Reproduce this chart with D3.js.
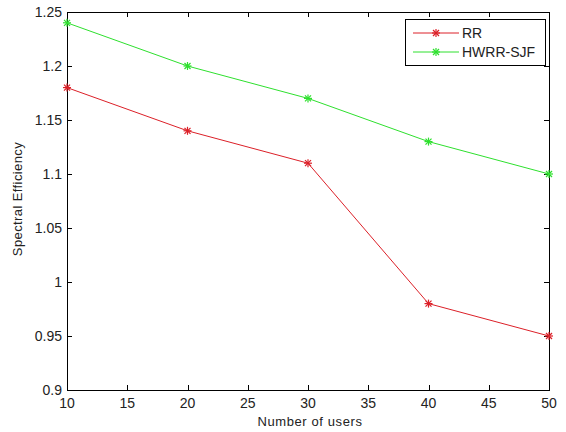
<!DOCTYPE html>
<html><head><meta charset="utf-8">
<script src="https://cdn.jsdelivr.net/npm/d3@7"></script>
<style>body{margin:0;background:#fff}svg{display:block}text{font-family:Arial,"Liberation Sans",sans-serif}</style>
</head><body>
<svg id="c" width="566" height="432"></svg>
<script>
const users = [10, 20, 30, 40, 50];
const rrValues = [1.18, 1.14, 1.11, 0.98, 0.95];
const hwrrValues = [1.24, 1.20, 1.17, 1.13, 1.10];
const xTicks = [10, 15, 20, 25, 30, 35, 40, 45, 50];
const yTicks = [0.9, 0.95, 1, 1.05, 1.1, 1.15, 1.2, 1.25];
const seriesNames = ["RR", "HWRR-SJF"];
const seriesColors = ["#dc2028", "#2ee02e"];

const svg = d3.select("#c");
const L = 67, R = 549, T = 12, B = 390;
const x = d3.scaleLinear().domain([10, 50]).range([L, R]);
const y = d3.scaleLinear().domain([0.9, 1.25]).range([B, T]);
const tl = 5;

const ax = svg.append("g").attr("stroke", "#000").attr("stroke-width", 1).attr("fill", "none");
ax.append("rect").attr("x", L + 0.5).attr("y", T + 0.5).attr("width", R - L).attr("height", B - T);
xTicks.forEach(t => {
  const px = Math.round(x(t)) + 0.5;
  ax.append("line").attr("x1", px).attr("x2", px).attr("y1", B).attr("y2", B - tl);
  ax.append("line").attr("x1", px).attr("x2", px).attr("y1", T).attr("y2", T + tl);
});
yTicks.forEach(t => {
  const py = Math.round(y(t)) + 0.5;
  ax.append("line").attr("x1", L).attr("x2", L + tl).attr("y1", py).attr("y2", py);
  ax.append("line").attr("x1", R).attr("x2", R - tl).attr("y1", py).attr("y2", py);
});
const fmt = d => String(+d.toFixed(2));
svg.append("g").selectAll("text").data(xTicks).join("text")
  .attr("x", d => x(d)).attr("y", B + 18).attr("text-anchor", "middle")
  .attr("font-size", 14).attr("fill", "#222").text(fmt);
svg.append("g").selectAll("text").data(yTicks).join("text")
  .attr("x", L - 5).attr("y", d => y(d) + 5).attr("text-anchor", "end")
  .attr("font-size", 14).attr("fill", "#222").text(fmt);

svg.append("text").attr("x", (L + R) / 2 + 2).attr("y", 426).attr("text-anchor", "middle")
  .attr("font-size", 13).attr("letter-spacing", 0.6).attr("fill", "#222").text("Number of users");
svg.append("text").attr("transform", `translate(22,${(T + B) / 2 - 2}) rotate(-90)`)
  .attr("text-anchor", "middle").attr("font-size", 13).attr("letter-spacing", 0.4).attr("fill", "#222").text("Spectral Efficiency");

function star(g, cx, cy, color) {
  const s = 4;
  const p = g.append("g").attr("stroke", color).attr("stroke-width", 1.2);
  p.append("line").attr("x1", cx - s).attr("x2", cx + s).attr("y1", cy).attr("y2", cy);
  p.append("line").attr("x1", cx).attr("x2", cx).attr("y1", cy - s).attr("y2", cy + s);
  const d = s * 0.75;
  p.append("line").attr("x1", cx - d).attr("x2", cx + d).attr("y1", cy - d).attr("y2", cy + d);
  p.append("line").attr("x1", cx - d).attr("x2", cx + d).attr("y1", cy + d).attr("y2", cy - d);
}

const line = d3.line().x((d, i) => x(users[i])).y(d => y(d));
[rrValues, hwrrValues].forEach((vals, k) => {
  const g = svg.append("g");
  g.append("path").datum(vals).attr("d", line).attr("fill", "none")
    .attr("stroke", seriesColors[k]).attr("stroke-width", 1);
  vals.forEach((v, i) => star(g, x(users[i]), y(v), seriesColors[k]));
});

// legend
const lg = svg.append("g");
lg.append("rect").attr("x", 405.5).attr("y", 19.5).attr("width", 140).attr("height", 46)
  .attr("fill", "#fff").attr("stroke", "#000");
seriesNames.forEach((n, k) => {
  const ly = 33 + k * 19;
  lg.append("line").attr("x1", 413).attr("x2", 459).attr("y1", ly).attr("y2", ly)
    .attr("stroke", seriesColors[k]).attr("stroke-width", 1);
  star(lg, 436, ly, seriesColors[k]);
  lg.append("text").attr("x", 462).attr("y", ly + 5).attr("font-size", 14).attr("fill", "#222").text(n);
});
</script>
</body></html>
